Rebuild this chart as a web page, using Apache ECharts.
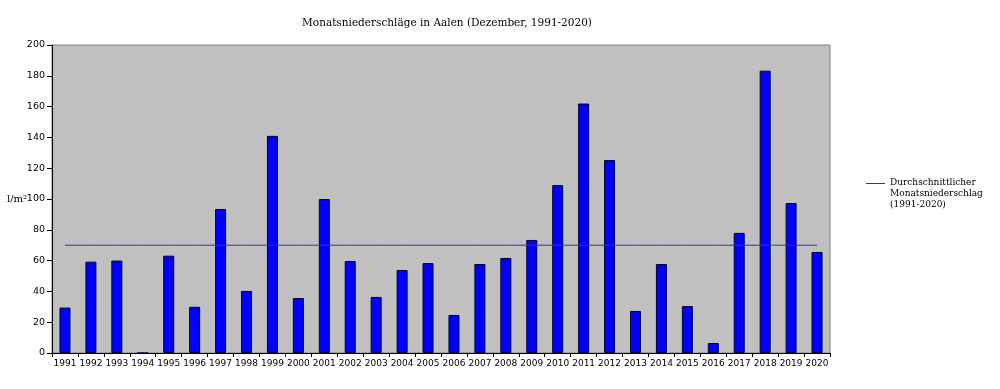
<!DOCTYPE html>
<html><head><meta charset="utf-8">
<script src="https://cdn.jsdelivr.net/npm/echarts@6/dist/echarts.min.js"></script>
<style>html,body{margin:0;padding:0;background:#fff}#c{width:1000px;height:389px}</style>
</head><body><div id="c"></div>
<script>
const years = ['1991','1992','1993','1994','1995','1996','1997','1998','1999','2000','2001','2002','2003','2004','2005','2006','2007','2008','2009','2010','2011','2012','2013','2014','2015','2016','2017','2018','2019','2020'];
const precip = [29.5,59.3,60,0,63.2,30,93.5,40.3,141,35.7,100,59.7,36.4,53.9,58.4,24.7,57.8,61.7,73.4,109,162,125.3,27.3,57.8,30.5,6.5,78,183.3,97.4,65.6];
const avgValue = 70;
const avgLine = years.map(() => avgValue);
const yTicks = {min: 0, max: 200, interval: 20};

const chart = echarts.init(document.getElementById('c'));
chart.setOption({
  animation: false,
  title: {
    text: 'Monatsniederschläge in Aalen (Dezember, 1991-2020)',
    left: 442, textAlign: 'center', top: 13,
    textStyle: {fontFamily: 'DejaVu Serif', fontSize: 10.5, fontWeight: 'normal', color: '#000'}
  },
  grid: {left: 52, right: 170, top: 45, bottom: 36, show: true, backgroundColor: '#c0c0c0', borderColor: '#808080', borderWidth: 1, outerBoundsMode: 'none', containLabel: false},
  legend: {
    left: 866, top: 177, orient: 'vertical', padding: 0,
    data: [{name: 'avg', icon: 'path://M0,0L20,0L20,1L0,1Z M0,22L0.01,22L0.01,22.01Z'}],
    itemWidth: 19, itemHeight: 23, itemGap: 4,
    formatter: () => 'Durchschnittlicher\nMonatsniederschlag\n(1991-2020)',
    textStyle: {fontFamily: 'DejaVu Serif', fontSize: 9, color: '#000', lineHeight: 11}
  },
  xAxis: {
    type: 'category', data: years, boundaryGap: true,
    axisLine: {lineStyle: {color: '#000', width: 1}},
    axisTick: {show: true, length: 4, lineStyle: {color: '#000'}},
    axisLabel: {fontFamily: 'DejaVu Sans', fontSize: 9, color: '#000', margin: 6, interval: 0}
  },
  yAxis: {
    type: 'value', min: yTicks.min, max: yTicks.max, interval: yTicks.interval,
    name: 'l/m²', nameLocation: 'middle', nameRotate: 0, nameGap: 25, nameMoveOverlap: false,
    nameTextStyle: {fontFamily: 'DejaVu Serif', fontSize: 10, color: '#000', align: 'right'},
    axisLine: {show: true, lineStyle: {color: '#000', width: 1}},
    axisTick: {show: true, length: 5, lineStyle: {color: '#000'}},
    splitLine: {show: false},
    axisLabel: {fontFamily: 'DejaVu Sans', fontSize: 9.5, color: '#000', margin: 7}
  },
  series: [
    {type: 'bar', name: 'Niederschlag', data: precip, barWidth: 11,
     itemStyle: {color: '#0000ff', borderColor: '#000040', borderWidth: 1}},
    {type: 'line', name: 'avg', data: avgLine, symbol: 'none', silent: true,
     lineStyle: {color: '#333399', width: 1}, itemStyle: {color: '#333399'}}
  ]
});
</script></body></html>
